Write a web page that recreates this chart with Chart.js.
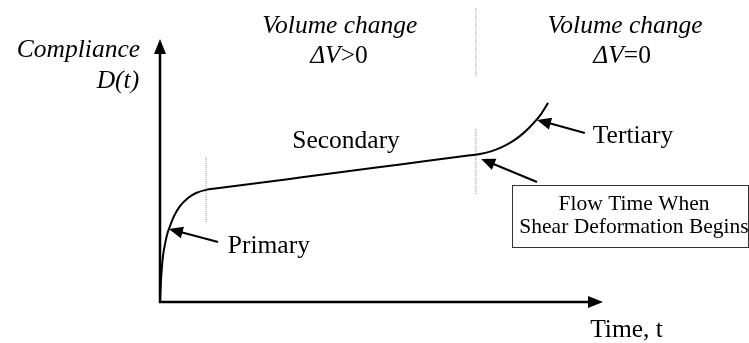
<!DOCTYPE html>
<html>
<head>
<meta charset="utf-8">
<script src="https://cdn.jsdelivr.net/npm/chart.js@4/dist/chart.umd.min.js"></script>
<style>
  html, body { margin: 0; padding: 0; background: #fff; }
  #wrap { width: 749px; height: 343px; position: relative; }
</style>
</head>
<body>
<div id="wrap"><canvas id="c" width="749" height="343"></canvas></div>
<script>
// ---- Data (schematic creep compliance curve) ----
const timeValues = [0, 0.23, 0.45, 0.68, 1.13, 1.58, 2.26, 3.16, 4.51, 6.32, 8.13, 10.6, 12.0, 31.6, 54.2, 70.0, 72.2, 74.5, 76.8, 79.0, 81.3, 83.5, 85.8, 87.6];
const complianceValues = [0, 8.4, 13.7, 17.6, 22.1, 25.6, 29.0, 32.8, 36.6, 39.7, 41.6, 42.9, 43.2, 47.5, 52.5, 56.0, 56.5, 57.4, 58.8, 60.7, 63.4, 66.8, 71.2, 76.0];

// region boundaries (time) and their dotted extents (compliance)
const boundaryTimes = [10.4, 71.3, 71.3];
const boundaryFrom = [30.5, 41.2, 86.6];
const boundaryTo = [55.3, 66.0, 112.2];

// text labels
const axisLabelY = ['Compliance', 'D(t)'];
const axisLabelX = 'Time, t';
const stageLabels = ['Primary', 'Secondary', 'Tertiary'];
const volumeTitles = ['Volume change', 'Volume change'];
const volumeConditions = [[['ΔV', 'italic'], ['>0', 'normal']], [['ΔV', 'italic'], ['=0', 'normal']]];
const boxLines = ['Flow Time When', 'Shear Deformation Begins'];

const curve = timeValues.map((t, i) => ({ x: t, y: complianceValues[i] }));
const dotted = boundaryTimes.map((t, i) => ({
  data: [{ x: t, y: boundaryFrom[i] }, { x: t, y: boundaryTo[i] }],
  borderColor: '#8a8a8a', borderWidth: 1, borderDash: [1, 1],
  pointRadius: 0, showLine: true, clip: false, tension: 0
}));

const SERIF = '"Liberation Serif", "Times New Roman", serif';

const annotationPlugin = {
  id: 'schematic',
  afterDatasetsDraw(chart, args, opts) {
    const ctx = chart.ctx;
    const xs = chart.scales.x, ys = chart.scales.y;
    const px = v => xs.getPixelForValue(v), py = v => ys.getPixelForValue(v);
    ctx.save();

    function arrowHead(x1, y1, x2, y2, len, half) {
      const a = Math.atan2(y2 - y1, x2 - x1);
      ctx.beginPath();
      ctx.moveTo(x2, y2);
      ctx.lineTo(x2 - len * Math.cos(a) + half * Math.sin(a), y2 - len * Math.sin(a) - half * Math.cos(a));
      ctx.lineTo(x2 - len * Math.cos(a) - half * Math.sin(a), y2 - len * Math.sin(a) + half * Math.cos(a));
      ctx.closePath();
      ctx.fill();
    }
    function arrow(x1, y1, x2, y2, w, len, half) {
      const a = Math.atan2(y2 - y1, x2 - x1);
      ctx.lineWidth = w;
      ctx.beginPath();
      ctx.moveTo(x1, y1);
      ctx.lineTo(x2 - (len - 2) * Math.cos(a), y2 - (len - 2) * Math.sin(a));
      ctx.stroke();
      arrowHead(x1, y1, x2, y2, len, half);
    }
    ctx.strokeStyle = '#000';
    ctx.fillStyle = '#000';
    ctx.lineCap = 'butt';

    // axes
    const ax = opts.axes;
    arrow(px(0), py(0) + 1, px(0), py(ax.yTip), 2.5, 15, 6);
    arrow(px(0) - 1, py(0), px(ax.xTip), py(0), 2.5, 15, 6);

    // pointer arrows
    opts.pointers.forEach(p => arrow(px(p.from[0]), py(p.from[1]), px(p.to[0]), py(p.to[1]), 2, 14, 6));

    // box
    const b = opts.box;
    ctx.lineWidth = 1;
    ctx.strokeStyle = '#333';
    ctx.strokeRect(Math.round(px(b.x0)) + 0.5, Math.round(py(b.y1)) + 0.5,
      Math.round(px(b.x1) - px(b.x0)), Math.round(py(b.y0) - py(b.y1)));

    // texts
    ctx.fillStyle = '#000';
    ctx.textBaseline = 'alphabetic';
    function text(str, x, y, align, style, size) {
      ctx.font = style + ' ' + size + 'px ' + SERIF;
      ctx.textAlign = align;
      ctx.fillText(str, px(x), py(y));
    }
    function runs(parts, x, y, size) {
      let total = 0;
      parts.forEach(([s, st]) => { ctx.font = st + ' ' + size + 'px ' + SERIF; total += ctx.measureText(s).width; });
      let cx = px(x) - total / 2;
      ctx.textAlign = 'left';
      parts.forEach(([s, st]) => {
        ctx.font = st + ' ' + size + 'px ' + SERIF;
        ctx.fillText(s, cx, py(y));
        cx += ctx.measureText(s).width;
      });
    }
    const T = opts.text;
    const fs = T.size;
    text(axisLabelY[0], T.yLabel[0][0], T.yLabel[0][1], 'right', 'italic', fs);
    text(axisLabelY[1], T.yLabel[1][0], T.yLabel[1][1], 'right', 'italic', fs);
    text(axisLabelX, T.xLabel[0], T.xLabel[1], 'left', 'normal', fs);
    stageLabels.forEach((s, i) => text(s, T.stages[i][0], T.stages[i][1], T.stages[i][2], 'normal', fs));
    volumeTitles.forEach((s, i) => {
      text(s, T.volume[i][0], T.volume[i][1], 'center', 'italic', fs);
      runs(volumeConditions[i], T.cond[i][0], T.cond[i][1], fs);
    });
    boxLines.forEach((s, i) => text(s, T.box[i][0], T.box[i][1], 'center', 'normal', T.boxSize));
    ctx.restore();
  }
};

new Chart(document.getElementById('c'), {
  type: 'scatter',
  data: {
    datasets: [
      { data: curve, showLine: true, borderColor: '#000', borderWidth: 2, pointRadius: 0, cubicInterpolationMode: 'monotone', clip: false },
      ...dotted
    ]
  },
  options: {
    responsive: false,
    animation: false,
    events: [],
    layout: { padding: { left: 160, right: 146, top: 40, bottom: 41 } },
    scales: {
      x: { type: 'linear', min: 0, max: 100, display: false },
      y: { type: 'linear', min: 0, max: 100, display: false }
    },
    plugins: {
      legend: { display: false },
      tooltip: { enabled: false },
      schematic: {
        axes: { xTip: 100, yTip: 100.4 },
        pointers: [
          { from: [13.1, 22.9], to: [2.0, 27.9] },
          { from: [95.9, 64.5], to: [85.1, 69.5] },
          { from: [85.1, 45.8], to: [72.5, 54.6] }
        ],
        box: { x0: 79.5, x1: 132.7, y0: 21.0, y1: 44.7 },
        text: {
          size: 25.5,
          boxSize: 21.5,
          yLabel: [[-4.5, 93.5], [-4.7, 81.7]],
          xLabel: [97.1, -13.4],
          stages: [[15.3, 18.7, 'left'], [42.0, 58.8, 'center'], [97.7, 60.7, 'left']],
          volume: [[40.6, 102.7], [105.0, 102.7]],
          cond: [[40.4, 91.2], [104.3, 91.2]],
          box: [[107.0, 35.1], [107.0, 26.3]]
        }
      }
    }
  },
  plugins: [annotationPlugin]
});
</script>
</body>
</html>
